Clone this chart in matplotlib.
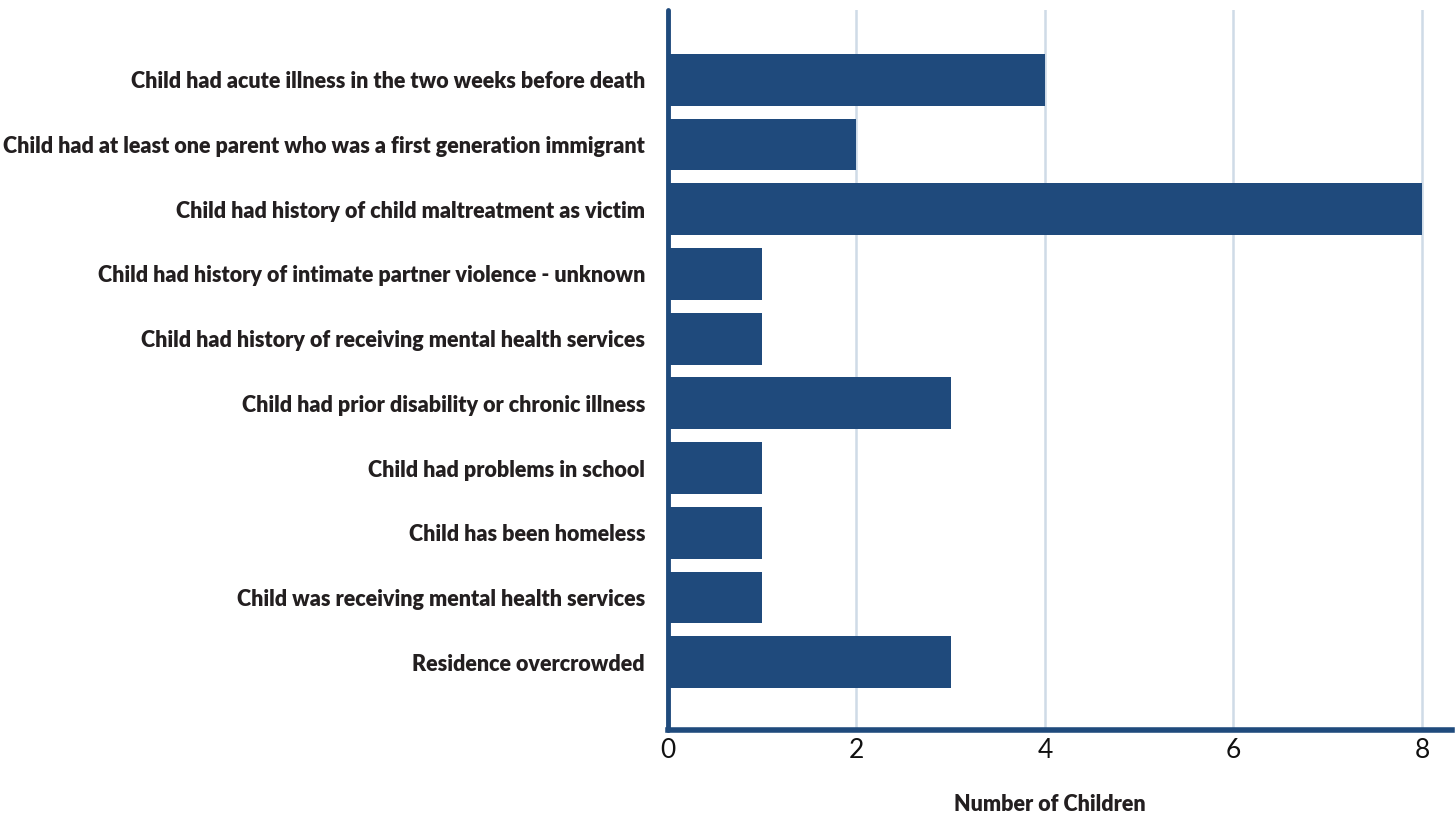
import matplotlib.pyplot as plt

# data
categories = [
    "Child had acute illness in the two weeks before death",
    "Child had at least one parent who was a first generation immigrant",
    "Child had history of child maltreatment as victim",
    "Child had history of intimate partner violence - unknown",
    "Child had history of receiving mental health services",
    "Child had prior disability or chronic illness",
    "Child had problems in school",
    "Child has been homeless",
    "Child was receiving mental health services",
    "Residence overcrowded",
]
counts = [4, 2, 8, 1, 1, 3, 1, 1, 1, 3]
xticks = [0, 2, 4, 6, 8]

navy = "#1f4a7c"
grid = "#cfdbe7"

plt.rcParams["font.family"] = ["Lato", "DejaVu Sans"]

fig = plt.figure(figsize=(14.56, 8.14), dpi=100)
ax = fig.add_axes([0.4588, 0.1032, 0.5385, 0.8845])

ypos = list(range(len(categories)))
ax.barh(ypos, counts, height=0.8, color=navy, zorder=3)

ax.set_xlim(0, 8.32)
ax.set_ylim(10.05, -1.08)
ax.set_xticks(xticks)
ax.set_xticklabels([str(t) for t in xticks], fontsize=19, color="#111111")
ax.set_yticks(ypos)
ax.set_yticklabels(categories, fontsize=15.5, fontweight="heavy", color="#231f20")
ax.tick_params(axis="both", length=0)
ax.tick_params(axis="y", pad=16.5)
ax.tick_params(axis="x", pad=6)

ax.grid(axis="x", color=grid, linewidth=1.8, zorder=0)
ax.grid(axis="y", visible=False)

for side in ["top", "right"]:
    ax.spines[side].set_visible(False)
ax.spines["left"].set_color(navy)
ax.spines["left"].set_linewidth(3.5)
ax.spines["left"].set_capstyle("round")
ax.spines["bottom"].set_color(navy)
ax.spines["bottom"].set_linewidth(4)
ax.spines["left"].set_zorder(4)
ax.spines["bottom"].set_zorder(4)

ax.set_xlabel("Number of Children", fontsize=15.5, fontweight="heavy",
              color="#231f20")
ax.xaxis.set_label_coords(0.487, -0.089)

fig.savefig("out.png", dpi=100)
